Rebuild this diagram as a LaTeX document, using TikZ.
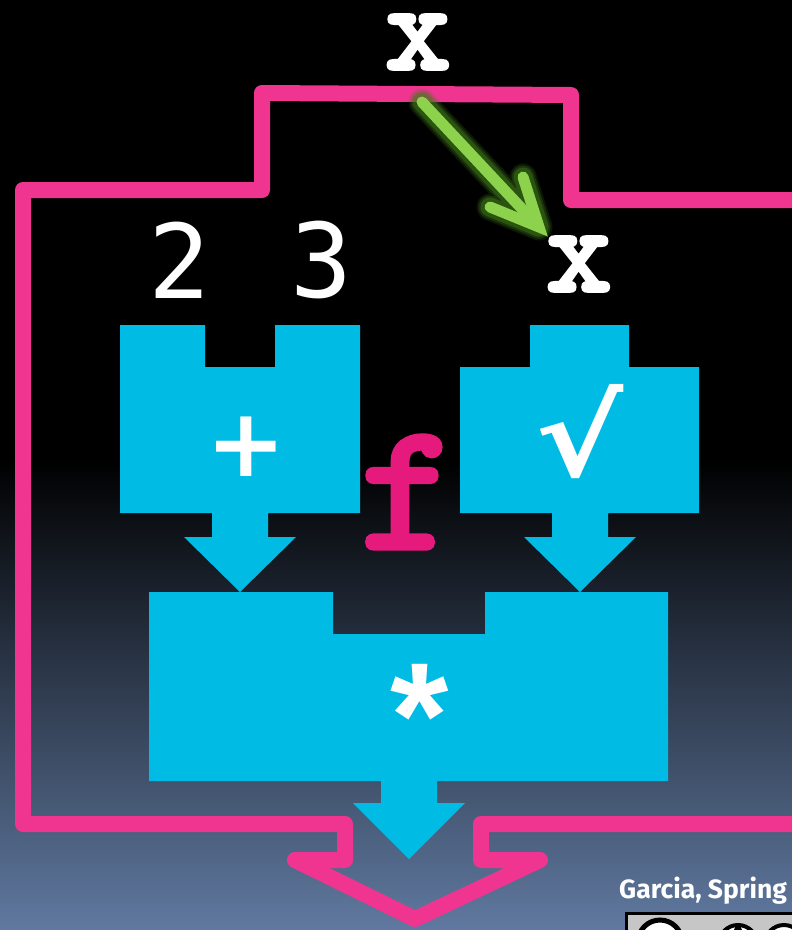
\documentclass[tikz,border=0pt]{standalone}
\usepackage{fontspec}
\usetikzlibrary{calc}
\newfontfamily\courb{lmmono10-regular}[Extension=.otf, FakeBold=3.5]
\newfontfamily\dvmono{DejaVu Sans Mono}
\newfontfamily\dvsans{DejaVu Sans}
\newfontfamily\lsans{Liberation Sans}
\newfontfamily\fira{Fira Sans}
\definecolor{pinkline}{HTML}{EF3590}
\definecolor{fmag}{HTML}{E6197C}
\definecolor{cyanbox}{HTML}{00BBE4}
\definecolor{garrow}{HTML}{8DD24C}
\definecolor{gglow}{HTML}{3F7A1A}
\definecolor{bgbot}{HTML}{6079A0}
\begin{document}
\begin{tikzpicture}[x=1pt,y=-1pt,
  box/.style={fill=cyanbox},
  lbl/.style={inner sep=0pt, text=white},
  outline/.style={draw=pinkline, line width=16pt, line join=round},
  greenline/.style={draw=garrow, line width=11pt, line cap=round},
  glowline/.style={draw=gglow, line cap=round, line join=round}]
\useasboundingbox (0,0) rectangle (792,930);
% background
\fill[black] (0,0) rectangle (792,461);
\shade[top color=black, bottom color=bgbot] (0,460) rectangle (792,930);

% pink function outline
\draw[outline] (800,824) -- (481,824) -- (481,860) -- (540,860) -- (415,919)
  -- (295,860) -- (345,860) -- (345,824) -- (23,824) -- (23,190) -- (262,190)
  -- (262,93) -- (571,95) -- (571,200) -- (800,200);

% cyan boxes
\fill[box] (120,325) -- (205,325) -- (205,367) -- (275,367) -- (275,325) -- (360,325)
  -- (360,513) -- (268,513) -- (268,537) -- (296,537) -- (240,592) -- (184,537)
  -- (212,537) -- (212,513) -- (120,513) -- cycle;
\fill[box] (530,325) -- (629,325) -- (629,367) -- (699,367) -- (699,513) -- (608,513)
  -- (608,537) -- (636,537) -- (580,592) -- (524,537) -- (552,537) -- (552,513)
  -- (460,513) -- (460,367) -- (530,367) -- cycle;
\fill[box] (149,592) -- (333,592) -- (333,634) -- (485,634) -- (485,592) -- (668,592)
  -- (668,781) -- (437,781) -- (437,803) -- (465,803) -- (409,859) -- (353,803)
  -- (381,803) -- (381,781) -- (149,781) -- cycle;

% labels
\node[lbl, font=\courb\fontsize{124}{124}\selectfont] (xtop) at (418,42) {x};
\node[lbl, font=\courb\fontsize{124}{124}\selectfont] (xin) at (579,264) {x};
\node[lbl, font=\dvmono\fontsize{103}{103}\selectfont] (two) at (180,260) {2};
\node[lbl, font=\dvmono\fontsize{103}{103}\selectfont] (three) at (322,260) {3};
\node[lbl, font=\dvsans\bfseries\fontsize{95}{95}\selectfont] (plus) at (246,447) {+};
\node[lbl, xscale=1.2, font=\dvsans\bfseries\fontsize{110}{110}\selectfont] (sqrt) at (580,432) {√};
\node[lbl, font=\lsans\bfseries\fontsize{150}{150}\selectfont] (star) at (420,716) {*};
\node[inner sep=0pt, text=fmag, font=\courb\fontsize{180}{180}\selectfont] (f) at (408,492) {f};
\node[anchor=base west, inner sep=0pt, text=white, font=\fira\bfseries\fontsize{26.5}{26.5}\selectfont] (credit) at (619,898) {Garcia, Spring};

% green arrow
\coordinate (gs) at (422,102);
\coordinate (gt) at (539,227);
\coordinate (gw1) at (490,207);
\coordinate (gw2) at (523,177);
\foreach \w/\o in {27/0.2, 23/0.3, 19/0.45} {
  \draw[glowline, line width=\w pt, opacity=\o] (gs) -- (gt) (gw1) -- (gt) -- (gw2);
}
\draw[greenline] (gs) -- ($(gt)!9pt!(gs)$);
\draw[greenline, line join=miter] (gw1) -- (gt) -- (gw2);

% CC badge (cut off)
\begin{scope}
\clip (0,0) rectangle (792,930);
\draw[fill=gray!45, draw=black, line width=3pt] (626,913) rectangle (820,960);
\draw[black, line width=5pt, fill=white] (660,942) circle (22);
\draw[black, line width=4pt, fill=white] (738,944) circle (19);
\fill[black] (738,930) circle (4);
\draw[black, line width=4pt, fill=white] (784,944) circle (19);
\end{scope}
\end{tikzpicture}
\end{document}
